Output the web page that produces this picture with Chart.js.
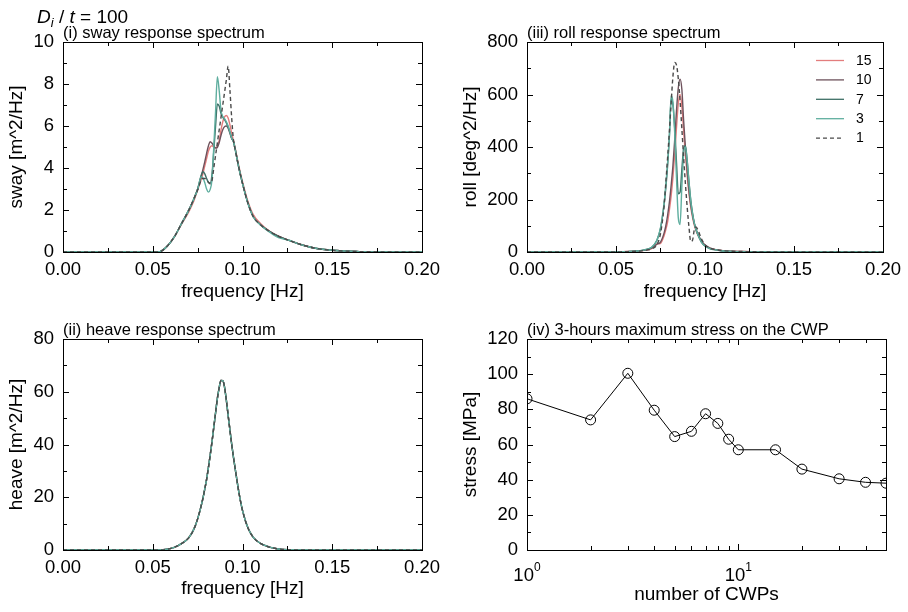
<!DOCTYPE html>
<html>
<head>
<meta charset="utf-8">
<title>CWP response spectra</title>
<script src="https://cdn.jsdelivr.net/npm/chart.js"></script>
<style>
	body { margin: 0; background: #fff; }
	#wrap { position: relative; width: 908px; height: 612px; }
	canvas { position: absolute; }
	#sway { left: 0; top: 0; }
	#roll { left: 454px; top: 0; }
	#heave { left: 0; top: 306px; }
	#stress { left: 454px; top: 306px; }
</style>
</head>
<body>
<div id="wrap">
	<canvas id="sway" width="454" height="306"></canvas>
	<canvas id="roll" width="454" height="306"></canvas>
	<canvas id="heave" width="454" height="306"></canvas>
	<canvas id="stress" width="454" height="306"></canvas>
</div>
<script>
// frequency grid [Hz] shared by the three spectra
const freq = [0, 0.050, 0.054, 0.058, 0.062, 0.066, 0.070, 0.073, 0.075,
	0.077, 0.078, 0.079, 0.080, 0.081, 0.082, 0.083, 0.084, 0.085, 0.086,
	0.087, 0.088, 0.089, 0.090, 0.091, 0.092, 0.093, 0.094, 0.095, 0.096,
	0.098, 0.100, 0.103, 0.106, 0.110, 0.115, 0.120, 0.126, 0.132, 0.140,
	0.150, 0.165, 0.180, 0.200];

const seriesNames = ['15', '10', '7', '3', '1'];

// (i) sway [m^2/Hz]
const sway15 = [0, 0, 0.02, 0.27, 0.72, 1.32, 1.9, 2.45, 2.95,
	3.45, 3.75, 4.1, 4.45, 4.8, 5.0, 5.06, 5.0, 4.96, 5.05,
	5.3, 5.8, 6.2, 6.43, 6.5, 6.38, 6.05, 5.65, 5.3, 4.92,
	4.08, 3.35, 2.42, 1.78, 1.36, 1.0, 0.76, 0.55, 0.37, 0.19,
	0.08, 0.02, 0.005, 0];
const sway10 = [0, 0, 0.02, 0.27, 0.72, 1.35, 1.98, 2.55, 3.0,
	3.6, 3.95, 4.3, 4.7, 5.05, 5.25, 5.18, 5.05, 4.95, 4.98,
	5.2, 5.55, 5.82, 5.97, 6.0, 5.9, 5.65, 5.4, 5.25, 4.86,
	4.0, 3.27, 2.33, 1.68, 1.3, 0.98, 0.75, 0.55, 0.37, 0.19,
	0.08, 0.02, 0.005, 0];
const sway7 = [0, 0, 0.02, 0.27, 0.72, 1.35, 1.98, 2.55, 3.0,
	3.65, 3.82, 3.72, 3.5, 3.32, 3.28, 3.7, 4.8, 6.0, 7.05,
	6.95, 6.6, 6.42, 6.3, 6.15, 5.95, 5.7, 5.42, 5.25, 4.86,
	4.0, 3.27, 2.33, 1.68, 1.3, 0.98, 0.74, 0.55, 0.37, 0.19,
	0.08, 0.02, 0.005, 0];
const sway3 = [0, 0, 0.02, 0.27, 0.72, 1.35, 1.98, 2.55, 2.98,
	3.58, 3.52, 3.3, 3.0, 2.85, 2.98, 3.45, 5.0, 6.7, 8.35,
	7.7, 6.75, 6.45, 6.35, 6.2, 6.0, 5.72, 5.42, 5.25, 4.86,
	4.0, 3.27, 2.33, 1.68, 1.28, 0.95, 0.68, 0.56, 0.36, 0.19,
	0.08, 0.02, 0.005, 0];
const sway1 = [0, 0, 0.02, 0.27, 0.72, 1.35, 1.98, 2.55, 2.95,
	3.42, 3.5, 3.5, 3.42, 3.32, 3.25, 3.4, 4.0, 4.6, 5.2,
	5.8, 6.4, 7.0, 7.6, 8.2, 8.85, 7.7, 6.35, 5.3, 4.86,
	4.0, 3.27, 2.33, 1.68, 1.3, 0.98, 0.75, 0.55, 0.37, 0.19,
	0.08, 0.02, 0.005, 0];

// (iii) roll [deg^2/Hz]
const roll15 = [0, 0.5, 1, 2, 3, 6, 13, 30, 33,
	62, 85, 115, 160, 215, 285, 375, 475, 565, 600,
	555, 460, 370, 290, 222, 170, 132, 102, 80, 64,
	40, 26, 14, 9, 5, 3, 2, 1, 0.5, 0,
	0, 0, 0, 0];
const roll10 = [0, 0.5, 1, 2, 3.5, 7, 15, 30, 38,
	72, 100, 140, 190, 255, 330, 430, 540, 625, 658,
	620, 500, 400, 310, 235, 180, 140, 108, 85, 68,
	42, 27, 15, 9, 5, 3, 2, 1, 0.5, 0,
	0, 0, 0, 0];
const roll7 = [0, 0.5, 1, 2, 4, 8, 18, 45, 90,
	180, 245, 330, 440, 585, 560, 470, 340, 222, 228,
	315, 395, 405, 348, 268, 198, 148, 110, 86, 68,
	38, 23, 12, 8, 4, 2, 1, 0.5, 0, 0,
	0, 0, 0, 0];
const roll3 = [0, 0.5, 1, 2, 4, 8, 18, 45, 92,
	185, 255, 340, 445, 595, 570, 450, 280, 130, 105,
	250, 375, 400, 345, 265, 195, 145, 110, 85, 66,
	38, 23, 12, 8, 4, 2, 1, 0.5, 0, 0,
	0, 0, 0, 0];
const roll1 = [0, 0.3, 0.8, 1.5, 3, 6, 12, 28, 70,
	175, 265, 360, 460, 570, 670, 722, 712, 660, 575,
	470, 360, 260, 170, 95, 40, 45, 85, 95, 85,
	50, 28, 14, 9, 5, 3, 2, 1, 0.5, 0,
	0, 0, 0, 0];

// (ii) heave [m^2/Hz], the five cases lie on top of each other
const heave = [0, 0, 0, 0.3, 1.0, 2.4, 4.6, 8.0, 11.8,
	16.8, 19.8, 23.2, 26.8, 31.2, 36, 41, 46.5, 52, 57.5,
	61.5, 64.3, 64.2, 61.8, 56.8, 51, 45.5, 40, 35, 30.5,
	21.8, 15, 8.4, 4.8, 2.5, 1.1, 0.4, 0.1, 0, 0,
	0, 0, 0, 0];

// (iv) 3-hours maximum stress
const nCWP = [1, 2, 3, 4, 5, 6, 7, 8, 9, 10, 15, 20, 30, 40, 50];
const stress = [86, 74, 100.5, 79.5, 64.5, 67.5, 77.5, 72, 63, 57, 57, 46, 40.5, 38.5, 38];

// tick labels
const freqTicks = [0, 0.05, 0.10, 0.15, 0.20];
const swayTicks = [0, 2, 4, 6, 8, 10];
const rollTicks = [0, 200, 400, 600, 800];
const heaveTicks = [0, 20, 40, 60, 80];
const stressTicks = [0, 20, 40, 60, 80, 100, 120];
const cwpTicks = [1, 10];

const FONT = '"Liberation Sans", Arial, sans-serif';
const colors = ['#e37d7d', '#6e525c', '#3e6f66', '#5fae9f', '#4a4a4a'];

Chart.defaults.font.family = FONT;
Chart.defaults.color = '#000';

function steps(min, max, step) {
	const out = [];
	for (let v = min; v <= max + step / 1000; v += step) out.push(+v.toFixed(6));
	return out;
}

// frame, inward ticks, panel title, legend and extra labels
const frame = {
	id: 'frame',
	afterDatasetsDraw(chart, args, o) {
		const {ctx, chartArea: a} = chart;
		const xs = chart.scales.x, ys = chart.scales.y;
		ctx.save();
		ctx.strokeStyle = '#000';
		ctx.lineWidth = 1;
		ctx.beginPath();
		const tickX = (vals, len) => vals.forEach(v => {
			const p = Math.round(xs.getPixelForValue(v)) + 0.5;
			ctx.moveTo(p, a.bottom); ctx.lineTo(p, a.bottom - len);
			ctx.moveTo(p, a.top); ctx.lineTo(p, a.top + len);
		});
		const tickY = (vals, len) => vals.forEach(v => {
			const p = Math.round(ys.getPixelForValue(v)) + 0.5;
			ctx.moveTo(a.left, p); ctx.lineTo(a.left + len, p);
			ctx.moveTo(a.right, p); ctx.lineTo(a.right - len, p);
		});
		tickX(o.xMajor, 6); tickX(o.xMinor, 4);
		tickY(o.yMajor, 6); tickY(o.yMinor, 4);
		ctx.stroke();
		ctx.strokeRect(Math.round(a.left) + 0.5, Math.round(a.top) + 0.5,
			Math.round(a.right - a.left), Math.round(a.bottom - a.top));

		ctx.fillStyle = '#000';
		ctx.textBaseline = 'alphabetic';
		ctx.textAlign = 'left';
		ctx.font = '16.5px ' + FONT;
		ctx.fillText(o.title, a.left, a.top - 4.5);

		if (o.header) {
			let x = 37;
			const base = 23;
			const part = (txt, font, dy) => {
				ctx.font = font;
				ctx.fillText(txt, x, base + dy);
				x += ctx.measureText(txt).width;
			};
			part('D', 'italic 19px ' + FONT, 0);
			part('i', 'italic 13px ' + FONT, 4);
			part(' / ', '19px ' + FONT, 0);
			part('t', 'italic 19px ' + FONT, 0);
			part(' = 100', '19px ' + FONT, 0);
		}

		if (o.logLabels) {
			o.logLabels.forEach(v => {
				const px = xs.getPixelForValue(v);
				const exp = String(Math.round(Math.log10(v)));
				ctx.font = '18.5px ' + FONT;
				const w1 = ctx.measureText('10').width;
				ctx.font = '12px ' + FONT;
				const w2 = ctx.measureText(exp).width;
				const x0 = px - (w1 + w2) / 2;
				const base = a.bottom + 31;
				ctx.font = '18.5px ' + FONT;
				ctx.fillText('10', x0, base);
				ctx.font = '12px ' + FONT;
				ctx.fillText(exp, x0 + w1, base - 10);
			});
		}

		if (o.legend) {
			chart.data.datasets.forEach((ds, i) => {
				const yy = a.top + 18 + i * 19.4;
				const x0 = a.right - 67;
				ctx.strokeStyle = ds.borderColor;
				ctx.lineWidth = 1.3;
				ctx.setLineDash(ds.borderDash || []);
				ctx.beginPath();
				ctx.moveTo(x0, yy + 0.5); ctx.lineTo(x0 + 28, yy + 0.5);
				ctx.stroke();
				ctx.setLineDash([]);
				ctx.font = '14px ' + FONT;
				ctx.textBaseline = 'middle';
				ctx.fillText(ds.label, x0 + 40, yy + 1);
			});
		}
		ctx.restore();
	}
};

function xyPoints(xs, ys) {
	return xs.map((x, i) => ({x: x, y: ys[i]}));
}

function spectrumSets(list) {
	return list.map((vals, i) => ({
		label: seriesNames[i],
		data: xyPoints(freq, vals),
		borderColor: colors[i],
		borderWidth: 1.4,
		borderDash: i === 4 ? [4, 3] : [],
		pointRadius: 0,
		cubicInterpolationMode: 'monotone',
		fill: false,
		order: 5 - i
	}));
}

function axisY(ticks, max, title, width) {
	return {
		type: 'linear', min: 0, max: max,
		afterBuildTicks: s => { s.ticks = ticks.map(v => ({value: v})); },
		afterFit: s => { s.width = width; },
		grid: {display: false, drawTicks: false},
		border: {display: false},
		ticks: {font: {size: 18.5}, padding: 9},
		title: {display: true, text: title, font: {size: 19}, padding: {top: 5}}
	};
}

function axisFreq(height, titlePad) {
	return {
		type: 'linear', min: 0, max: 0.2,
		afterBuildTicks: s => { s.ticks = freqTicks.map(v => ({value: v})); },
		afterFit: s => { s.height = height; },
		grid: {display: false, drawTicks: false},
		border: {display: false},
		ticks: {font: {size: 18.5}, padding: 7, maxRotation: 0, autoSkip: false,
			callback: v => v.toFixed(2)},
		title: {display: true, text: 'frequency [Hz]', font: {size: 19}, padding: {bottom: titlePad}}
	};
}

function spectrumChart(id, sets, yTicks, yMinor, yMax, yTitle, yWidth, xHeight, titlePad, pad, extra) {
	return new Chart(document.getElementById(id), {
		type: 'line',
		data: {datasets: spectrumSets(sets)},
		options: {
			responsive: false,
			animation: false,
			layout: {padding: pad},
			scales: {
				x: axisFreq(xHeight, titlePad),
				y: axisY(yTicks, yMax, yTitle, yWidth)
			},
			plugins: {
				legend: {display: false},
				tooltip: {enabled: false},
				frame: Object.assign({
					xMajor: freqTicks, xMinor: steps(0.025, 0.2, 0.05),
					yMajor: yTicks, yMinor: yMinor
				}, extra)
			}
		},
		plugins: [frame]
	});
}

spectrumChart('sway', [sway15, sway10, sway7, sway3, sway1], swayTicks, steps(1, 10, 2), 10,
	'sway [m^2/Hz]', 63, 54, 3, {left: 0, top: 42, right: 32, bottom: 0},
	{title: '(i) sway response spectrum', header: true});

spectrumChart('roll', [roll15, roll10, roll7, roll3, roll1], rollTicks, steps(100, 800, 200), 800,
	'roll [deg^2/Hz]', 73, 54, 3, {left: 0, top: 42, right: 22, bottom: 0},
	{title: '(iii) roll response spectrum', legend: true});

spectrumChart('heave', [heave, heave, heave, heave, heave], heaveTicks, steps(10, 80, 20), 80,
	'heave [m^2/Hz]', 63, 62, 12, {left: 0, top: 33, right: 32, bottom: 0},
	{title: '(ii) heave response spectrum'});

new Chart(document.getElementById('stress'), {
	type: 'line',
	data: {
		datasets: [{
			label: 'stress',
			data: xyPoints(nCWP, stress),
			borderColor: '#000',
			borderWidth: 1,
			pointRadius: 5,
			pointBorderWidth: 1,
			pointBorderColor: '#000',
			pointBackgroundColor: 'rgba(0,0,0,0)',
			tension: 0,
			clip: 0
		}]
	},
	options: {
		responsive: false,
		animation: false,
		layout: {padding: {left: 0, top: 33, right: 22, bottom: 0}},
		scales: {
			x: {
				type: 'logarithmic', min: 1, max: 50,
				afterBuildTicks: s => { s.ticks = cwpTicks.map(v => ({value: v})); },
				afterFit: s => { s.height = 62; },
				grid: {display: false, drawTicks: false},
				border: {display: false},
				ticks: {display: false},
				title: {display: true, text: 'number of CWPs', font: {size: 19}, padding: {bottom: 6}}
			},
			y: axisY(stressTicks, 120, 'stress [MPa]', 73)
		},
		plugins: {
			legend: {display: false},
			tooltip: {enabled: false},
			frame: {
				title: '(iv) 3-hours maximum stress on the CWP',
				xMajor: cwpTicks,
				xMinor: [2, 3, 4, 5, 6, 7, 8, 9, 20, 30, 40],
				yMajor: stressTicks,
				yMinor: steps(10, 120, 20),
				logLabels: cwpTicks
			}
		}
	},
	plugins: [frame]
});
</script>
</body>
</html>
